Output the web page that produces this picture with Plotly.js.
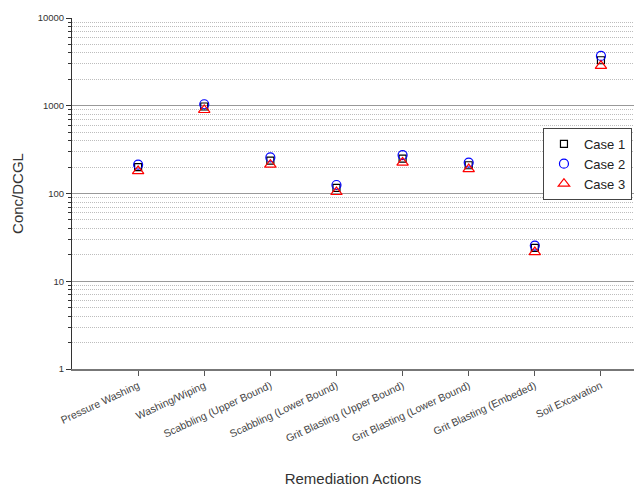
<!DOCTYPE html>
<html>
<head>
<meta charset="utf-8">
<script src="https://cdn.plot.ly/plotly-3.0.1.min.js"></script>
<style>html,body{margin:0;padding:0;background:#fff;}#chart{width:634px;height:488px;}</style>
</head>
<body>
<div id="chart"></div>
<script>
var categories = ["Pressure Washing", "Washing/Wiping", "Scabbling (Upper Bound)", "Scabbling (Lower Bound)", "Grit Blasting (Upper Bound)", "Grit Blasting (Lower Bound)", "Grit Blasting (Embeded)", "Soil Excavation"];
var case1 = [200, 980, 237, 116, 250, 210, 24, 3300];
var case2 = [213, 1040, 258, 125, 274, 225, 25.5, 3700];
var case3 = [180, 895, 213, 104, 225, 190, 21.5, 2850];
var yTickVals = [1, 10, 100, 1000, 10000];
var yTickText = ["1", "10", "100", "1000", "10000"];

var idx = categories.map(function(c, i){ return i; });
function tr(name, vals, sym, col, size) {
  return {x: idx, y: vals, name: name, type: 'scatter', mode: 'markers',
    marker: {symbol: sym, size: size, color: col, line: {color: col, width: 1.2}}};
}
var data = [
  tr('Case 1', case1, 'square-open', '#000000', 7),
  tr('Case 2', case2, 'circle-open', '#0000ff', 9),
  tr('Case 3', case3, 'triangle-up-open', '#ff0000', 10)
];
var layout = {
  width: 634, height: 488,
  margin: {l: 72, r: 0, t: 18, b: 119},
  paper_bgcolor: '#fff', plot_bgcolor: '#fff',
  font: {family: 'Arial, Liberation Sans, sans-serif', color: '#333'},
  showlegend: true,
  legend: {x: 0.838, y: 0.687, xanchor: 'left', yanchor: 'top', bgcolor: '#fff', bordercolor: '#444', borderwidth: 1,
    font: {size: 13, color: '#222'}, tracegroupgap: 0, itemwidth: 30},
  xaxis: {
    range: [-1, 7.5], tickvals: idx, ticktext: categories, tickangle: -25,
    tickfont: {size: 10.5, color: '#444'}, ticks: 'outside', ticklen: 5, tickcolor: '#555',
    showline: true, linecolor: '#777', linewidth: 1.5, showgrid: false, zeroline: false,
    title: {text: 'Remediation Actions', font: {size: 15, color: '#333'}, standoff: 30}
  },
  yaxis: {
    type: 'log', range: [0, 4], tickvals: yTickVals, ticktext: yTickText,
    tickfont: {size: 9.5, color: '#333'}, ticks: 'outside', ticklen: 5, tickcolor: '#333',
    showline: true, linecolor: '#333', linewidth: 1, zeroline: false,
    showgrid: true, gridcolor: '#999', gridwidth: 1,
    minor: {dtick: 'D1', ticks: 'outside', ticklen: 3, tickcolor: '#333', showgrid: true, gridcolor: '#bdbdbd', griddash: '1px,1px', gridwidth: 1},
    title: {text: 'Conc/DCGL', font: {size: 15, color: '#333'}, standoff: 10}
  }
};
Plotly.newPlot('chart', data, layout, {displayModeBar: false});
</script>
</body>
</html>
